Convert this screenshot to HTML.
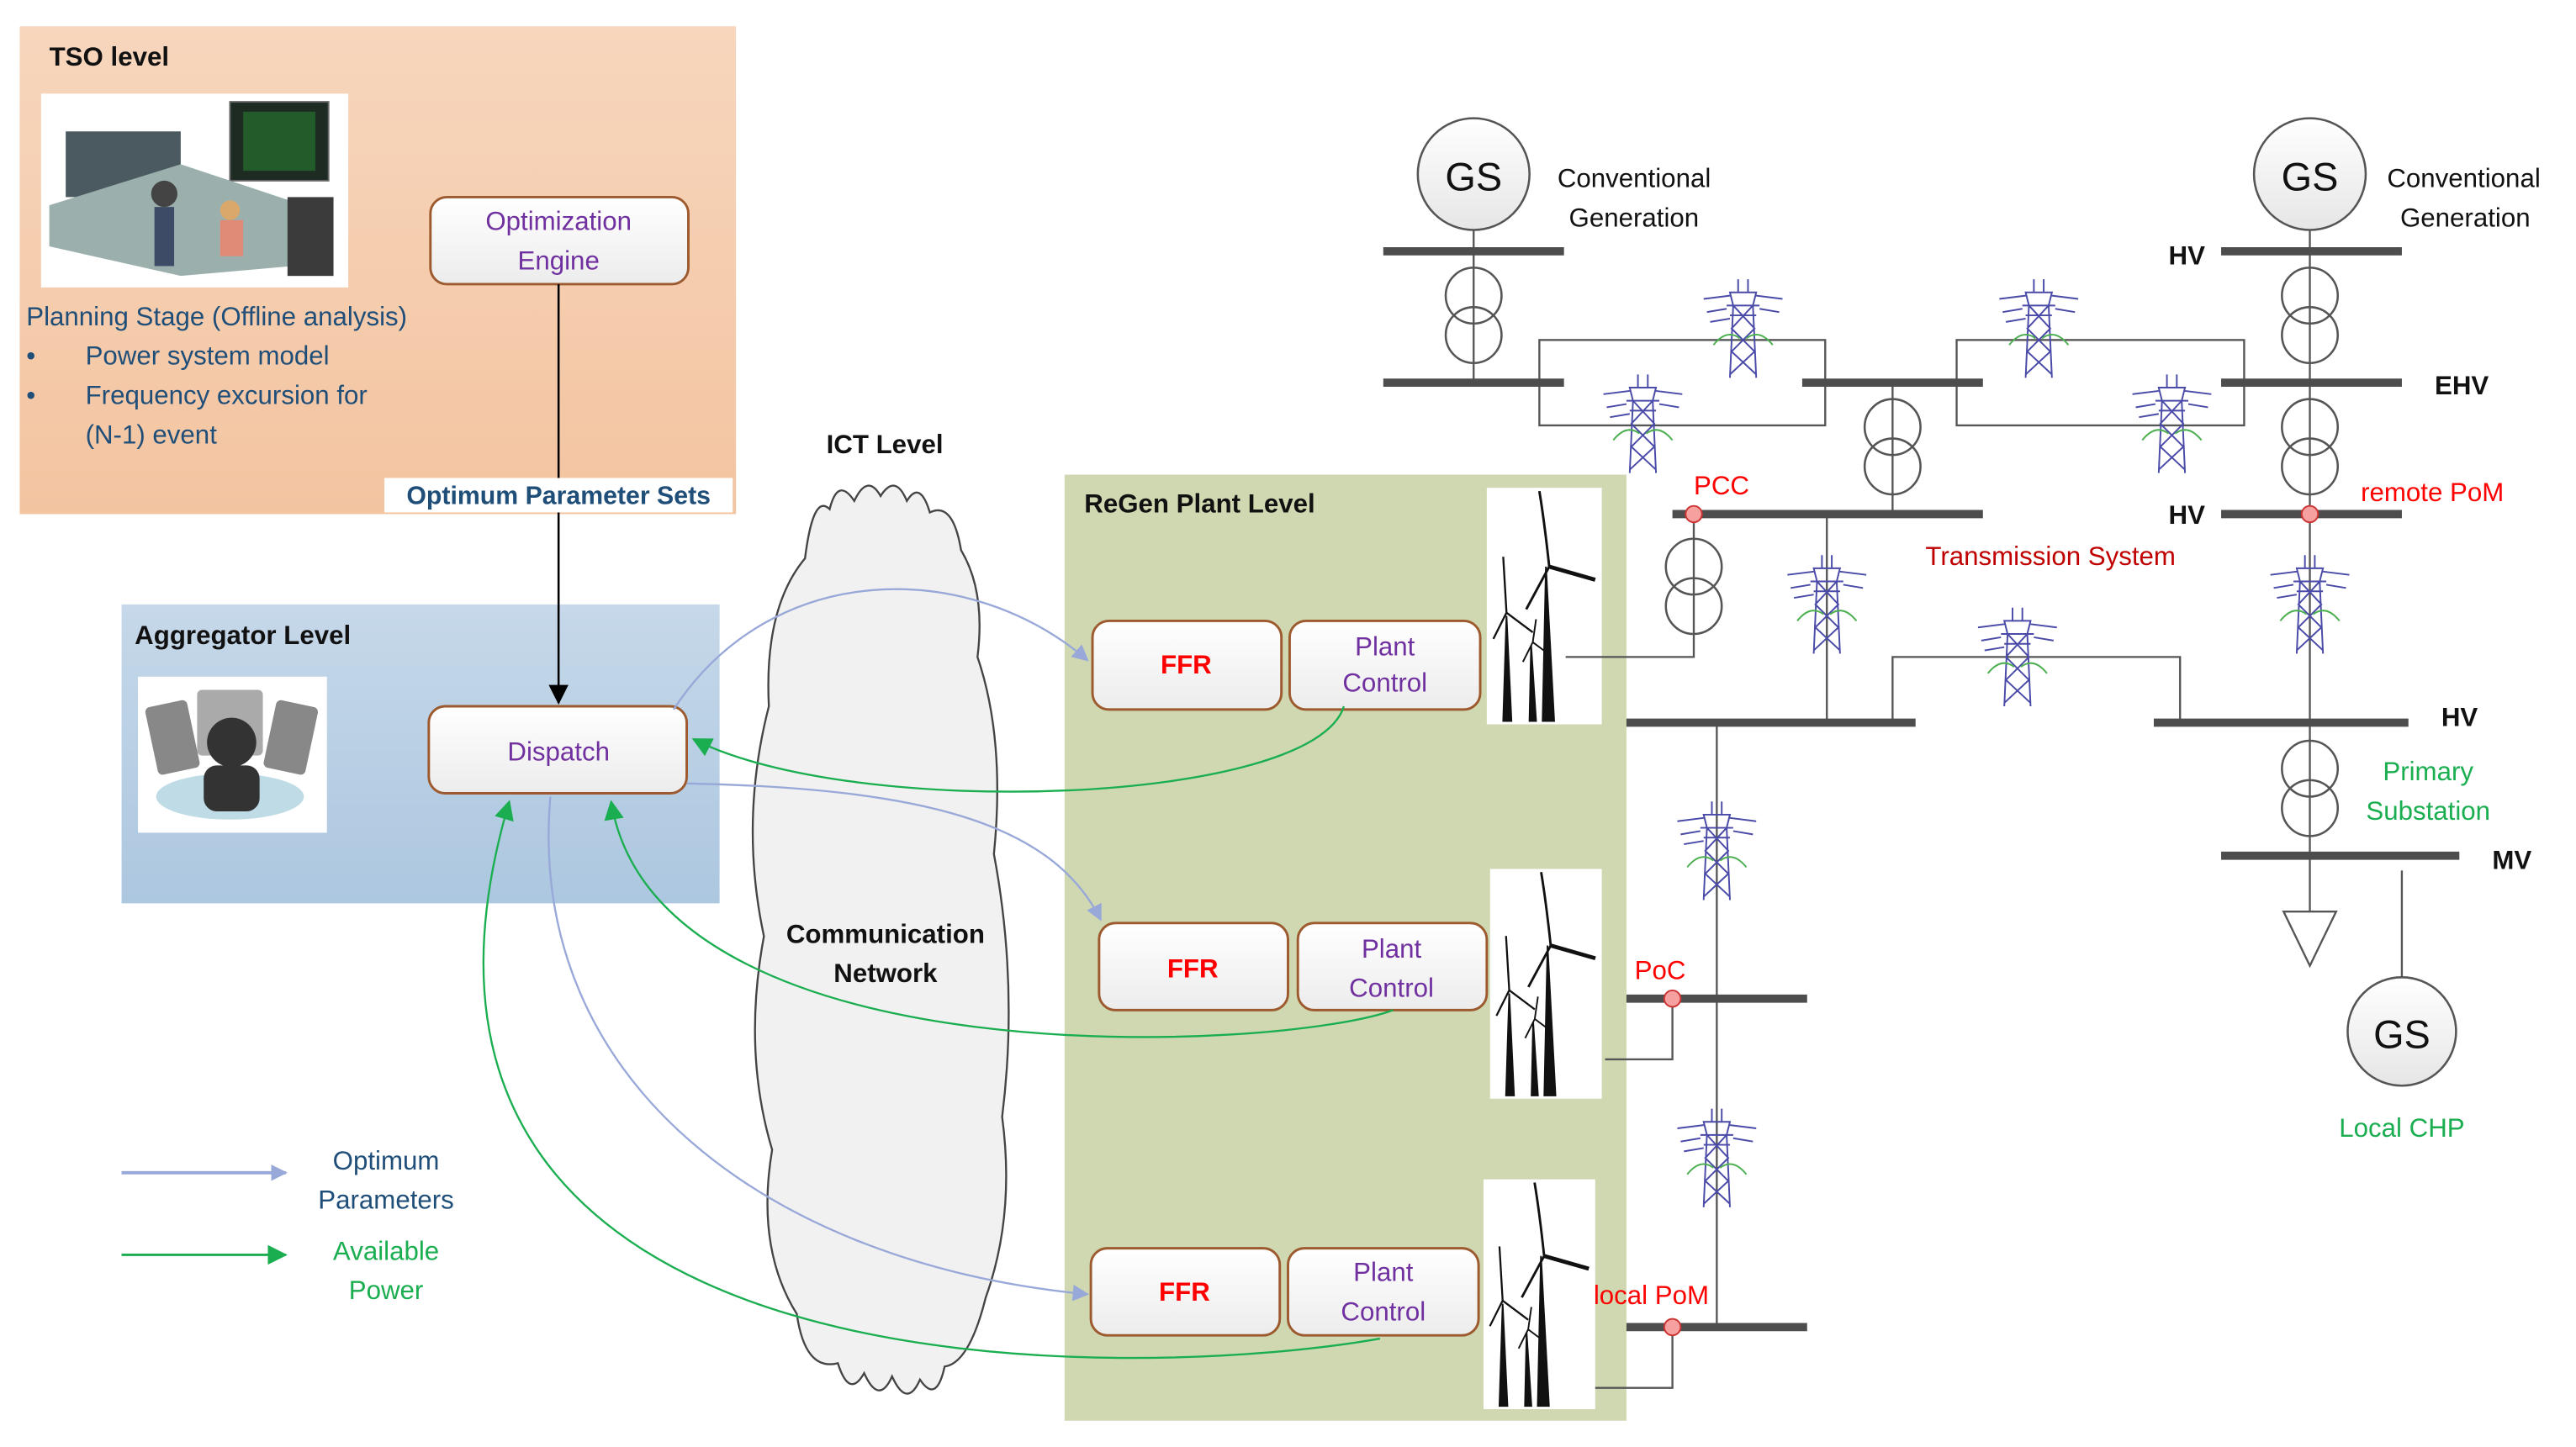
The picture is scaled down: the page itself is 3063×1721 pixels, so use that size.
<!DOCTYPE html>
<html><head><meta charset="utf-8"><style>
html,body{margin:0;padding:0;background:#fff;}
svg{display:block;}
text{font-family:"Liberation Sans",sans-serif;}
</style></head><body>
<svg width="3063" height="1721" viewBox="0 0 1568 881" preserveAspectRatio="none" xmlns="http://www.w3.org/2000/svg">
<defs>
<linearGradient id="tso" x1="0" y1="0" x2="0" y2="1"><stop offset="0" stop-color="#f7d6bd"/><stop offset="1" stop-color="#f3c4a0"/></linearGradient>
<linearGradient id="agg" x1="0" y1="0" x2="0" y2="1"><stop offset="0" stop-color="#c6d8e9"/><stop offset="1" stop-color="#acc7e0"/></linearGradient>
<linearGradient id="btn" x1="0" y1="0" x2="0" y2="1"><stop offset="0" stop-color="#ffffff"/><stop offset="1" stop-color="#ececec"/></linearGradient>
<linearGradient id="cir" x1="0" y1="0" x2="0" y2="1"><stop offset="0" stop-color="#ffffff"/><stop offset="1" stop-color="#e6e6e6"/></linearGradient>
<marker id="ab" markerWidth="10" markerHeight="10" refX="9" refY="5" orient="auto" markerUnits="userSpaceOnUse"><path d="M0,0 L10,5 L0,10 z" fill="#98a8d8"/></marker>
<marker id="ag" markerWidth="12" markerHeight="12" refX="11" refY="6" orient="auto" markerUnits="userSpaceOnUse"><path d="M0,0 L12,6 L0,12 z" fill="#1aae50"/></marker>
<marker id="ak" markerWidth="12" markerHeight="12" refX="11" refY="6" orient="auto" markerUnits="userSpaceOnUse"><path d="M0,0 L12,6 L0,12 z" fill="#000"/></marker>
<symbol id="tower" viewBox="-25 -32 50 64" overflow="visible">
<g stroke="#4a4aa8" stroke-width="1" fill="none">
<path d="M-3,-30 L-3,-22 M3,-30 L3,-22 M-8,-22 L8,-22 L6,-14 L-6,-14 z M-10,-14 L10,-14 M-8,-8 L8,-8 M-6,-14 L-8,30 M6,-14 L8,30 M-6,-14 L7,0 L-7,14 L8,28 M6,-14 L-7,0 L7,14 L-8,28 M-24,-18 L-8,-20 M-22,-10 L-10,-12 M24,-18 L8,-20 M22,-10 L10,-12 M-20,-4 L-8,-6"/>
</g>
<path d="M-18,10 Q-10,0 -2,6 M18,10 Q10,0 2,6" stroke="#4caf50" stroke-width="1" fill="none"/>
</symbol>
<symbol id="turb" viewBox="0 0 70 144" overflow="visible">
<rect x="0" y="0" width="70" height="144" fill="#fff"/>
<g fill="#111" stroke="#111">
<path d="M36,48 L34,142 L41,142 z" stroke-width="1"/>
<path d="M38,48 Q35,20 32,2" stroke-width="1.5" fill="none"/>
<path d="M38,48 L66,56" stroke-width="2.5"/>
<path d="M38,48 L24,74" stroke-width="1.5"/>
<path d="M12,78 L10,142 L15,142 z"/>
<path d="M12,76 Q11,60 10,42 M12,76 L28,88 M12,76 L4,92" stroke-width="1.2" fill="none"/>
<path d="M27,96 L26,142 L30,142 z"/>
<path d="M28,94 L30,80 M28,94 L36,100 M28,94 L22,106" stroke-width="1" fill="none"/>
</g>
</symbol>
<symbol id="xf" viewBox="-20 -26 40 52" overflow="visible">
<circle cx="0" cy="-12" r="17" fill="none" stroke="#555" stroke-width="1.3"/>
<circle cx="0" cy="12" r="17" fill="none" stroke="#555" stroke-width="1.3"/>
</symbol>
</defs>

<!-- TSO -->
<rect x="12" y="16" width="436" height="297" fill="url(#tso)"/>
<text x="30" y="40" font-size="16" font-weight="bold" fill="#111">TSO level</text>
<rect x="25" y="57" width="187" height="118" fill="#fff"/>
<g>
<rect x="40" y="80" width="70" height="40" fill="#4b5a60"/>
<rect x="140" y="62" width="60" height="48" fill="#1d2b22" stroke="#666"/>
<rect x="148" y="68" width="44" height="36" fill="#235c2a"/>
<path d="M30,125 L110,100 L200,130 L200,160 L110,168 L30,150 z" fill="#9bb0ad"/>
<rect x="175" y="120" width="28" height="48" fill="#3b3b3b"/>
<circle cx="100" cy="118" r="8" fill="#444"/><rect x="94" y="126" width="12" height="36" fill="#3d4b66"/>
<circle cx="140" cy="128" r="6" fill="#d9a86a"/><rect x="134" y="134" width="14" height="22" fill="#e08a78"/>
</g>
<rect x="262" y="120" width="157" height="53" rx="10" fill="url(#btn)" stroke="#9c5a2e" stroke-width="1.5"/>
<text x="340" y="140" font-size="16" fill="#7030a0" text-anchor="middle">Optimization</text>
<text x="340" y="164" font-size="16" fill="#7030a0" text-anchor="middle">Engine</text>
<g font-size="16" fill="#1f4e79">
<text x="16" y="198">Planning Stage (Offline analysis)</text>
<text x="16" y="222">•</text><text x="52" y="222">Power system model</text>
<text x="16" y="246">•</text><text x="52" y="246">Frequency excursion for</text>
<text x="52" y="270">(N-1) event</text>
</g>

<!-- Aggregator -->
<rect x="74" y="368" width="364" height="182" fill="url(#agg)"/>
<text x="82" y="392" font-size="16" font-weight="bold" fill="#111">Aggregator Level</text>
<rect x="84" y="412" width="115" height="95" fill="#fff"/>
<ellipse cx="140" cy="485" rx="45" ry="14" fill="#bfdbe6"/>
<rect x="92" y="428" width="26" height="42" rx="3" fill="#888" transform="rotate(-12 105 449)"/>
<rect x="120" y="420" width="40" height="40" rx="3" fill="#aaa"/>
<rect x="164" y="428" width="26" height="42" rx="3" fill="#888" transform="rotate(12 177 449)"/>
<circle cx="141" cy="452" r="15" fill="#333"/>
<rect x="124" y="466" width="34" height="28" rx="8" fill="#333"/>
<line x1="340" y1="173" x2="340" y2="428" stroke="#000" stroke-width="1.3" marker-end="url(#ak)"/>
<rect x="234" y="291" width="212" height="21" fill="#fff"/>
<text x="340" y="307" font-size="15.5" font-weight="bold" fill="#1f4e79" text-anchor="middle">Optimum Parameter Sets</text>
<rect x="261" y="430" width="157" height="53" rx="10" fill="url(#btn)" stroke="#9c5a2e" stroke-width="1.5"/>
<text x="340" y="463" font-size="16" fill="#7030a0" text-anchor="middle">Dispatch</text>

<!-- ICT cloud -->
<text x="503" y="276" font-size="16" font-weight="bold" fill="#111">ICT Level</text>
<path d="M490,340 Q495,300 505,310 Q510,290 520,305 Q528,288 536,302 Q545,288 552,305 Q560,292 566,312 Q580,305 585,335 Q600,360 595,400 Q612,450 605,520 Q620,600 610,680 Q618,740 600,790 Q590,830 575,832 Q570,855 560,840 Q552,858 543,838 Q535,856 526,836 Q517,852 510,830 Q490,835 485,800 Q460,760 470,700 Q452,640 465,570 Q450,500 468,430 Q465,370 490,340 z" fill="#f1f1f1" stroke="#444" stroke-width="1.2"/>
<text x="539" y="574" font-size="16" font-weight="bold" fill="#111" text-anchor="middle">Communication</text>
<text x="539" y="598" font-size="16" font-weight="bold" fill="#111" text-anchor="middle">Network</text>

<!-- ReGen -->
<rect x="648" y="289" width="342" height="576" fill="#cfd8b1"/>
<text x="660" y="312" font-size="16" font-weight="bold" fill="#111">ReGen Plant Level</text>
<g font-size="16">
<rect x="665" y="378" width="115" height="54" rx="10" fill="url(#btn)" stroke="#9c5a2e" stroke-width="1.5"/>
<text x="722" y="410" fill="#ff0000" font-weight="bold" text-anchor="middle">FFR</text>
<rect x="785" y="378" width="116" height="54" rx="10" fill="url(#btn)" stroke="#9c5a2e" stroke-width="1.5"/>
<text x="843" y="399" fill="#7030a0" text-anchor="middle">Plant</text><text x="843" y="421" fill="#7030a0" text-anchor="middle">Control</text>
<rect x="669" y="562" width="115" height="53" rx="10" fill="url(#btn)" stroke="#9c5a2e" stroke-width="1.5"/>
<text x="726" y="595" fill="#ff0000" font-weight="bold" text-anchor="middle">FFR</text>
<rect x="790" y="562" width="115" height="53" rx="10" fill="url(#btn)" stroke="#9c5a2e" stroke-width="1.5"/>
<text x="847" y="583" fill="#7030a0" text-anchor="middle">Plant</text><text x="847" y="607" fill="#7030a0" text-anchor="middle">Control</text>
<rect x="664" y="760" width="115" height="53" rx="10" fill="url(#btn)" stroke="#9c5a2e" stroke-width="1.5"/>
<text x="721" y="792" fill="#ff0000" font-weight="bold" text-anchor="middle">FFR</text>
<rect x="784" y="760" width="116" height="53" rx="10" fill="url(#btn)" stroke="#9c5a2e" stroke-width="1.5"/>
<text x="842" y="780" fill="#7030a0" text-anchor="middle">Plant</text><text x="842" y="804" fill="#7030a0" text-anchor="middle">Control</text>
</g>
<use href="#turb" x="905" y="297" width="70" height="144"/>
<use href="#turb" x="907" y="528" width="68" height="142"/>
<use href="#turb" x="903" y="716" width="68" height="144"/>

<!-- connectors -->
<g fill="none" stroke-width="1.2">
<path d="M410,432 C470,340 590,340 662,402" stroke="#98a8d8" marker-end="url(#ab)"/>
<path d="M418,477 C560,480 640,500 670,560" stroke="#98a8d8" marker-end="url(#ab)"/>
<path d="M335,485 C320,660 470,770 662,788" stroke="#98a8d8" marker-end="url(#ab)"/>
<path d="M818,430 C800,490 520,500 422,450" stroke="#1aae50" marker-end="url(#ag)"/>
<path d="M848,615 C780,640 400,660 372,488" stroke="#1aae50" marker-end="url(#ag)"/>
<path d="M840,815 C700,840 200,860 310,488" stroke="#1aae50" marker-end="url(#ag)"/>
<line x1="74" y1="714" x2="174" y2="714" stroke="#98a8d8" stroke-width="2" marker-end="url(#ab)"/>
<line x1="74" y1="764" x2="174" y2="764" stroke="#1aae50" stroke-width="1.5" marker-end="url(#ag)"/>
</g>
<text x="235" y="712" font-size="16" fill="#1f4e79" text-anchor="middle">Optimum</text>
<text x="235" y="736" font-size="16" fill="#1f4e79" text-anchor="middle">Parameters</text>
<text x="235" y="767" font-size="16" fill="#1aae50" text-anchor="middle">Available</text>
<text x="235" y="791" font-size="16" fill="#1aae50" text-anchor="middle">Power</text>

<!-- grid: thin lines -->
<g stroke="#555" stroke-width="1.2" fill="none">
<line x1="897" y1="140" x2="897" y2="233"/>
<line x1="1406" y1="140" x2="1406" y2="440"/>
<rect x="937" y="207" width="174" height="52"/>
<rect x="1191" y="207" width="175" height="52"/>
<line x1="1152" y1="233" x2="1152" y2="313"/>
<path d="M1031,313 L1031,400 L953,400"/>
<line x1="1112" y1="313" x2="1112" y2="440"/>
<path d="M1152,440 L1152,400 L1327,400 L1327,440"/>
<line x1="1045" y1="440" x2="1045" y2="810"/>
<line x1="1406" y1="440" x2="1406" y2="555"/>
<line x1="1462" y1="530" x2="1462" y2="596"/>
<path d="M1018,608 L1018,645 L977,645"/>
<path d="M1018,808 L1018,845 L971,845"/>
<path d="M1390,555 L1422,555 L1406,588 z" fill="#fff"/>
</g>
<g fill="#fff">
<use href="#xf" x="877" y="166" width="40" height="52"/>
<use href="#xf" x="1386" y="166" width="40" height="52"/>
<use href="#xf" x="1386" y="246" width="40" height="52"/>
<use href="#xf" x="1132" y="246" width="40" height="52"/>
<use href="#xf" x="1011" y="331" width="40" height="52"/>
<use href="#xf" x="1386" y="454" width="40" height="52"/>
</g>
<!-- buses -->
<g stroke="#4d4d4d" stroke-width="5">
<line x1="842" y1="153" x2="952" y2="153"/>
<line x1="842" y1="233" x2="952" y2="233"/>
<line x1="1097" y1="233" x2="1207" y2="233"/>
<line x1="1352" y1="153" x2="1462" y2="153"/>
<line x1="1352" y1="233" x2="1462" y2="233"/>
<line x1="1018" y1="313" x2="1207" y2="313"/>
<line x1="1352" y1="313" x2="1462" y2="313"/>
<line x1="990" y1="440" x2="1166" y2="440"/>
<line x1="1311" y1="440" x2="1466" y2="440"/>
<line x1="1352" y1="521" x2="1497" y2="521"/>
<line x1="990" y1="608" x2="1100" y2="608"/>
<line x1="990" y1="808" x2="1100" y2="808"/>
</g>
<g fill="#f7a0a0" stroke="#c33" stroke-width="1">
<circle cx="1031" cy="313" r="5"/><circle cx="1406" cy="313" r="5"/>
<circle cx="1018" cy="608" r="5"/><circle cx="1018" cy="808" r="5"/>
</g>
<!-- generators -->
<circle cx="897" cy="106" r="34" fill="url(#cir)" stroke="#555" stroke-width="1.3"/>
<text x="897" y="116" font-size="24" text-anchor="middle" fill="#111">GS</text>
<circle cx="1406" cy="106" r="34" fill="url(#cir)" stroke="#555" stroke-width="1.3"/>
<text x="1406" y="116" font-size="24" text-anchor="middle" fill="#111">GS</text>
<circle cx="1462" cy="628" r="33" fill="url(#cir)" stroke="#555" stroke-width="1.3"/>
<text x="1462" y="638" font-size="24" text-anchor="middle" fill="#111">GS</text>
<!-- towers -->
<use href="#tower" x="1036" y="168" width="50" height="64"/>
<use href="#tower" x="975" y="226" width="50" height="64"/>
<use href="#tower" x="1216" y="168" width="50" height="64"/>
<use href="#tower" x="1297" y="226" width="50" height="64"/>
<use href="#tower" x="1087" y="336" width="50" height="64"/>
<use href="#tower" x="1203" y="368" width="50" height="64"/>
<use href="#tower" x="1381" y="336" width="50" height="64"/>
<use href="#tower" x="1020" y="486" width="50" height="64"/>
<use href="#tower" x="1020" y="673" width="50" height="64"/>
<!-- labels -->
<g font-size="16">
<text x="948" y="114" fill="#111">Conventional</text>
<text x="955" y="138" fill="#111">Generation</text>
<text x="1453" y="114" fill="#111">Conventional</text>
<text x="1461" y="138" fill="#111">Generation</text>
<text x="1320" y="161" font-weight="bold" fill="#111">HV</text>
<text x="1482" y="240" font-weight="bold" fill="#111">EHV</text>
<text x="1320" y="319" font-weight="bold" fill="#111">HV</text>
<text x="1486" y="442" font-weight="bold" fill="#111">HV</text>
<text x="1517" y="529" font-weight="bold" fill="#111">MV</text>
<text x="1031" y="301" fill="#ff0000">PCC</text>
<text x="1437" y="305" fill="#ff0000">remote PoM</text>
<text x="1172" y="344" fill="#c00000">Transmission System</text>
<text x="1478" y="475" fill="#1aae50" text-anchor="middle">Primary</text>
<text x="1478" y="499" fill="#1aae50" text-anchor="middle">Substation</text>
<text x="1462" y="692" fill="#1aae50" text-anchor="middle">Local CHP</text>
<text x="995" y="596" fill="#ff0000">PoC</text>
<text x="970" y="794" fill="#ff0000">local PoM</text>
</g>
</svg>
</body></html>
